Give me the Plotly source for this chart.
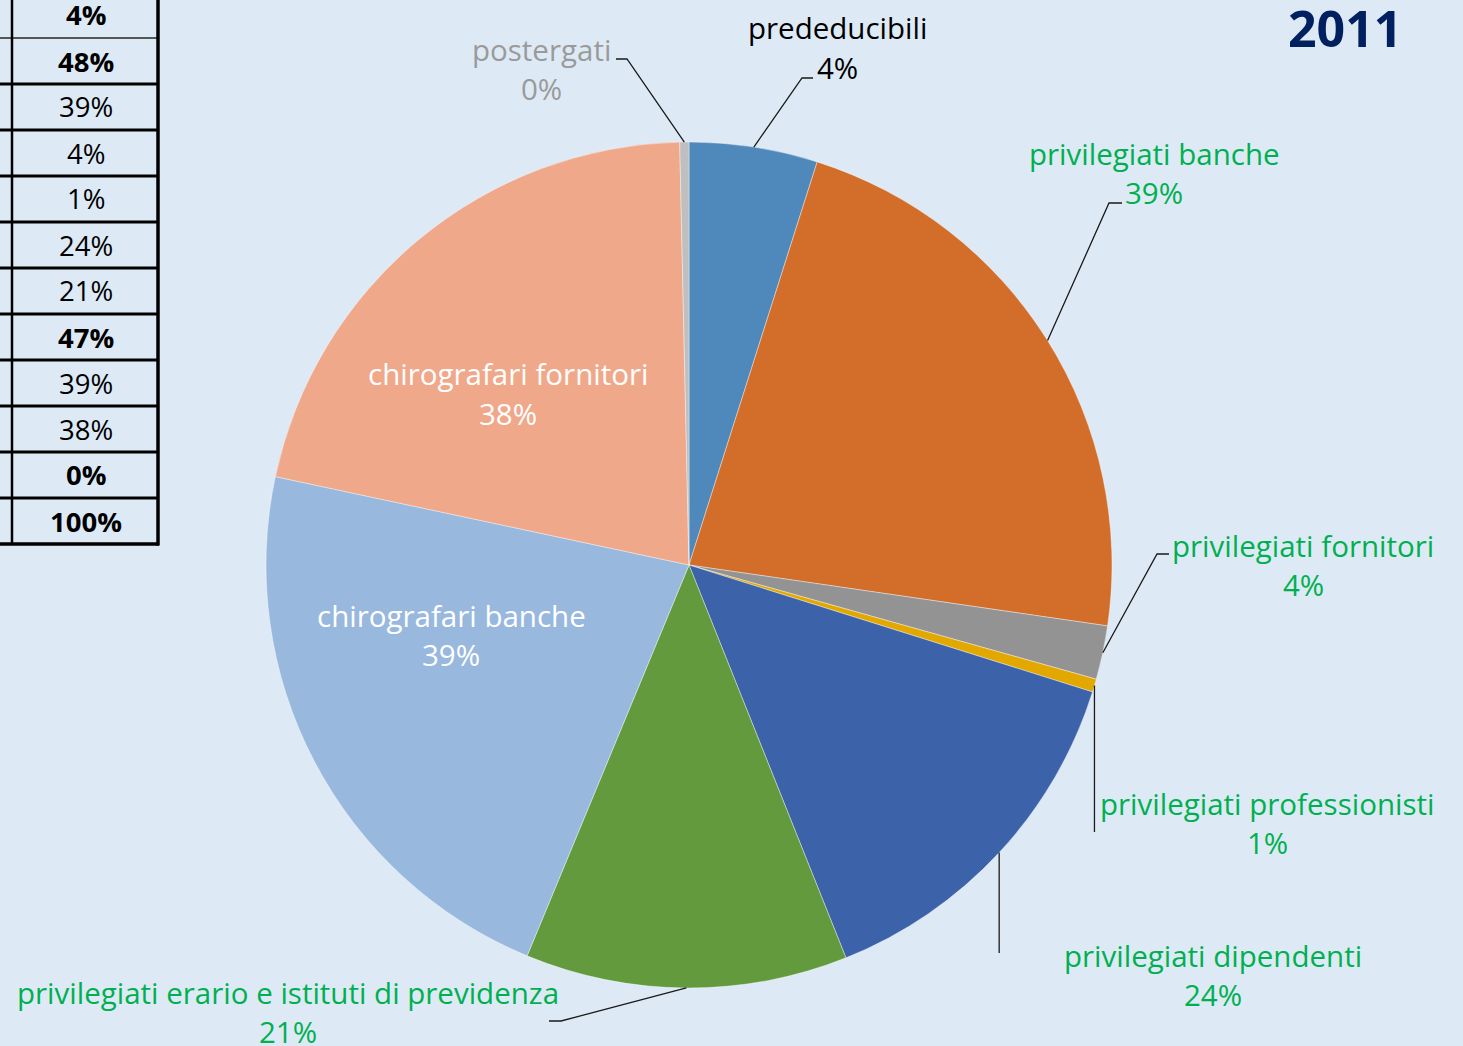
import math
import plotly.graph_objects as go

W, H = 1463, 1046

# ---------------- data ----------------
categories = [
    "prededucibili",
    "privilegiati banche",
    "privilegiati fornitori",
    "privilegiati professionisti",
    "privilegiati dipendenti",
    "privilegiati erario e istituti di previdenza",
    "chirografari banche",
    "chirografari fornitori",
    "postergati",
]
slice_values = [4.9, 22.4, 2.05, 0.5, 14.1, 12.3, 22.1, 21.3, 0.35]
label_pcts = ["4%", "39%", "4%", "1%", "24%", "21%", "39%", "38%", "0%"]

table_values = ["4%", "48%", "39%", "4%", "1%", "24%", "21%", "47%", "39%", "38%", "0%", "100%"]
table_bold = [True, True, False, False, False, False, False, True, False, False, True, True]

year_title = "2011"

# ---------------- styles / layout ----------------
BG = "#DDEAF6"
GREEN = "#00B050"
slice_colors = ["#4F88BB", "#D26E2A", "#939393", "#E2A800", "#3C62AA",
                "#629A3D", "#98B8DE", "#F0A88A", "#BFBFBF"]
label_colors = ["#000000", GREEN, GREEN, GREEN, GREEN, GREEN,
                "#FFFFFF", "#FFFFFF", "#9A9A9A"]
FONT = "Open Sans"
LABEL_SIZE = 29.5
LINE_GAP = 39.5

CX, CY, R = 689, 565, 423          # pie centre / radius in pixels
# (centre x, y of first text line)
label_pos = [(837, 28), (1154, 153), (1303, 545), (1267, 803), (1213, 955),
             (288, 992), (451, 615), (508, 374), (541, 49)]
# leader line points after the arc point; None in x means "same x as arc point"
leaders = [
    [(802, 78), (813, 78)],
    [(1109, 203), (1122, 203)],
    [(1157, 554), (1169, 554)],
    [(None, 832)],
    [(None, 953)],
    [(561, 1021), (549, 1021)],
    None,
    None,
    [(627, 59), (616, 59)],
]


def px(x):
    return x / W


def py(y):
    return 1 - y / H


fig = go.Figure()

fig.add_trace(go.Pie(
    labels=categories,
    values=slice_values,
    sort=False,
    direction="clockwise",
    rotation=0,
    textinfo="none",
    hoverinfo="label+percent",
    marker=dict(colors=slice_colors, line=dict(color="rgba(255,255,255,0.55)", width=0.7)),
    showlegend=False,
    domain=dict(x=[px(CX - R), px(CX + R)], y=[py(CY + R), py(CY - R)]),
))

shapes = []
annotations = []

# labels and leader lines
total = sum(slice_values)
cum = 0.0
for i, (cat, v) in enumerate(zip(categories, slice_values)):
    theta = 2 * math.pi * (cum + v / 2) / total
    cum += v
    ax = CX + R * math.sin(theta)
    ay = CY - R * math.cos(theta)
    lx, ly = label_pos[i]
    for j, line_text in enumerate([cat, label_pcts[i]]):
        annotations.append(dict(
            x=px(lx), y=py(ly + j * LINE_GAP), xref="paper", yref="paper",
            text=line_text, showarrow=False,
            xanchor="center", yanchor="middle", align="center",
            font=dict(family=FONT, size=LABEL_SIZE, color=label_colors[i]),
        ))
    if leaders[i]:
        pts = [(ax, ay)]
        for (x, y) in leaders[i]:
            pts.append((ax if x is None else x, y))
        path = "M " + " L ".join(f"{px(x):.5f},{py(y):.5f}" for x, y in pts)
        shapes.append(dict(type="path", path=path, xref="paper", yref="paper",
                           line=dict(color="#1A1A1A", width=1.3)))

# title
annotations.append(dict(
    x=px(1345), y=py(28), xref="paper", yref="paper",
    text=f"<b>{year_title}</b>", showarrow=False,
    xanchor="center", yanchor="middle",
    font=dict(family=FONT, size=50, color="#002060"),
))

# table on the left (partially cut)
ROW_H = 46.0
TABLE_BOTTOM = 544
TABLE_TOP = TABLE_BOTTOM - ROW_H * len(table_values)
for k, (val, bold) in enumerate(zip(table_values, table_bold)):
    yc = TABLE_TOP + ROW_H * (k + 0.5)
    annotations.append(dict(
        x=px(86), y=py(yc), xref="paper", yref="paper",
        text=f"<b>{val}</b>" if bold else val, showarrow=False,
        xanchor="center", yanchor="middle",
        font=dict(family=FONT, size=27.5, color="#000000"),
    ))
for k in range(1, len(table_values) + 1):
    yl = TABLE_TOP + ROW_H * k
    last = k == len(table_values)
    shapes.append(dict(type="line", xref="paper", yref="paper",
                       x0=px(0), x1=px(159), y0=py(yl), y1=py(yl),
                       line=dict(color="#000000" if k > 1 else "#555555",
                                 width=3.5 if last else (3 if k > 1 else 2))))
shapes.append(dict(type="line", xref="paper", yref="paper",
                   x0=px(12), x1=px(12), y0=py(0), y1=py(TABLE_BOTTOM),
                   line=dict(color="#000000", width=2.5)))
shapes.append(dict(type="line", xref="paper", yref="paper",
                   x0=px(158), x1=px(158), y0=py(0), y1=py(TABLE_BOTTOM + 1.5),
                   line=dict(color="#000000", width=3.5)))

fig.update_layout(
    width=W, height=H,
    margin=dict(l=0, r=0, t=0, b=0),
    paper_bgcolor=BG, plot_bgcolor=BG,
    shapes=shapes, annotations=annotations,
    font=dict(family=FONT),
)

fig.write_html(
    "out.html",
    config={"displayModeBar": False},
    post_script="document.body.style.margin='0';document.body.style.overflow='hidden';",
)
